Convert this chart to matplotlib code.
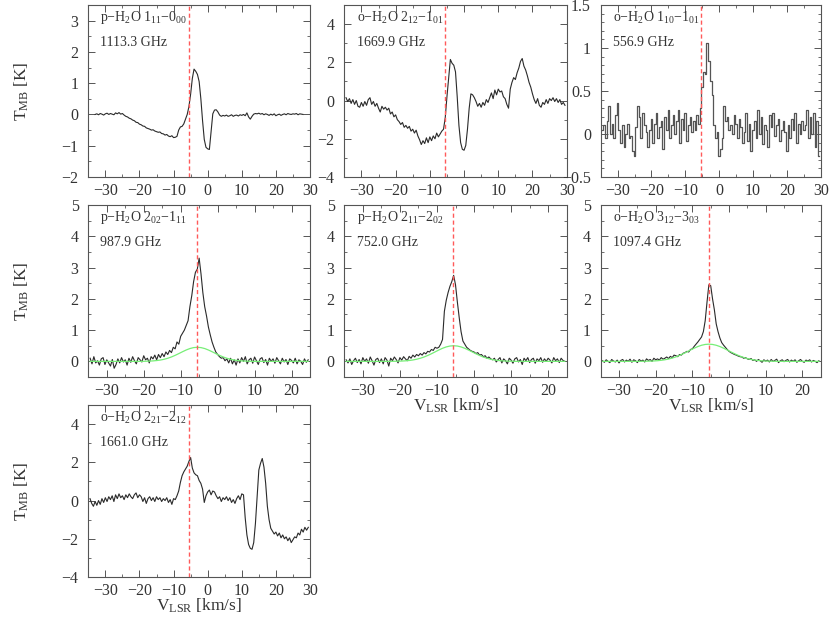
import matplotlib
matplotlib.use("Agg")
import numpy as np
import matplotlib.pyplot as plt
from matplotlib.ticker import MultipleLocator, FuncFormatter

plt.rcParams["font.family"] = ["Liberation Serif", "DejaVu Serif"]
plt.rcParams["mathtext.fontset"] = "custom"
plt.rcParams["mathtext.rm"] = "Liberation Serif"
plt.rcParams["mathtext.it"] = "Liberation Serif:italic"

# ---- spectra (T_MB in K), 0.5 km/s channels ----
# p-H2O 1_11-0_00, 1113.3 GHz ; first channel -33.0 km/s
t_1113 = [
    0.00, 0.02, -0.01, 0.03, 0.01, -0.02, 0.02, 0.04, 0.00, 0.03,
    0.01, -0.01, 0.05, 0.02, 0.06, 0.01, 0.03, -0.02, -0.06, -0.08,
    -0.12, -0.14, -0.18, -0.20, -0.25, -0.26, -0.31, -0.33, -0.37, -0.38,
    -0.43, -0.45, -0.47, -0.50, -0.49, -0.53, -0.55, -0.57, -0.56, -0.61,
    -0.62, -0.66, -0.64, -0.69, -0.71, -0.68, -0.74, -0.73, -0.70, -0.50,
    -0.40, -0.38, -0.30, -0.15, 0.00, 0.25, 0.65, 1.15, 1.45, 1.38,
    1.28, 1.05, 0.50, -0.20, -0.80, -1.05, -1.10, -1.12, -0.55, 0.02,
    0.14, 0.15, 0.08, -0.02, -0.06, -0.03, -0.05, -0.02, -0.06, -0.04,
    -0.01, -0.06, -0.03, -0.02, -0.05, -0.01, -0.03, 0.00, -0.04, 0.05,
    -0.08, -0.15, -0.06, 0.01, 0.03, 0.02, 0.04, 0.01, 0.03, -0.01,
    0.02, 0.00, -0.03, 0.01, -0.02, 0.02, -0.04, -0.01, 0.01, -0.03,
    0.00, 0.02, -0.01, 0.03, 0.01, 0.00, 0.02, 0.01, 0.03, -0.01,
    0.02, 0.01, 0.00,
]
# o-H2O 2_12-1_01, 1669.9 GHz ; first channel -34.5 km/s
t_1669 = [
    0.15, -0.05, 0.10, -0.15, 0.05, -0.20, 0.00, -0.30, -0.35, -0.10,
    -0.30, -0.05, -0.25, 0.05, 0.15, -0.20, -0.05, -0.30, -0.15, -0.40,
    -0.60, -0.30, -0.45, -0.35, -0.50, -0.40, -0.70, -0.60, -0.85, -0.75,
    -1.00, -1.10, -1.25, -1.15, -1.40, -1.30, -1.45, -1.35, -1.60, -1.50,
    -1.70, -1.55, -1.85, -2.05, -2.30, -2.10, -2.25, -1.95, -2.20, -1.90,
    -2.10, -1.85, -2.00, -1.70, -1.90, -1.75, -1.60, -1.50, -0.90, 0.20,
    1.20, 2.15, 1.95, 1.85, 1.50, 0.20, -1.30, -2.20, -2.55, -2.60,
    -2.35, -1.50, -0.40, 0.35, 0.30, 0.15, -0.05, -0.30, -0.15, -0.35,
    -0.10, -0.25, 0.05, -0.10, 0.15, 0.40, 0.10, 0.55, 0.30, 0.60,
    0.45, 0.50, 0.20, 0.10, -0.20, -0.40, 0.60, 0.95, 1.20, 1.10,
    1.45, 1.70, 2.05, 2.20, 1.80, 1.60, 1.30, 0.95, 0.70, 0.35,
    0.05, -0.15, 0.10, -0.25, -0.35, -0.10, -0.20, 0.05, -0.15, 0.10,
    0.00, 0.15, -0.05, 0.10, -0.10, 0.05, -0.20, -0.10, -0.25,
]
# o-H2O 1_10-1_01, 556.9 GHz ; first channel -34.5 km/s
t_556 = [
    0.05, 0.10, -0.05, 0.15, 0.32, 0.00, 0.12, -0.05, 0.22, 0.36,
    0.05, -0.10, 0.10, -0.15, 0.00, 0.12, -0.05, -0.02, -0.20, -0.25,
    0.08, 0.32, 0.20, -0.05, 0.25, 0.10, 0.02, -0.15, 0.05, 0.18,
    -0.10, 0.12, 0.25, -0.05, 0.08, 0.15, -0.18, 0.20, 0.05, 0.28,
    -0.05, 0.10, 0.22, 0.00, 0.15, 0.28, -0.10, 0.18, 0.05, 0.25,
    -0.08, 0.10, 0.20, 0.02, 0.15, 0.05, 0.22, 0.12, 0.30, 0.55,
    0.72, 0.70, 1.06, 0.85, 0.62, 0.45, 0.10, -0.05, 0.02, -0.25,
    -0.18, -0.05, 0.32, 0.15, 0.20, 0.05, 0.10, 0.00, 0.22, 0.12,
    -0.05, 0.18, 0.08, -0.10, 0.02, 0.25, -0.08, 0.12, -0.20, 0.05,
    0.15, -0.05, 0.28, 0.00, 0.20, -0.12, 0.10, 0.05, -0.15, 0.22,
    0.08, 0.25, -0.02, 0.10, 0.18, -0.08, 0.05, 0.15, 0.02, -0.20,
    0.10, -0.05, 0.18, 0.05, 0.25, -0.10, 0.12, 0.00, 0.15, 0.05,
    0.10, 0.28, -0.05, 0.20, 0.00, 0.25, -0.15, 0.15, -0.25,
]
# p-H2O 2_02-1_11, 987.9 GHz ; first channel -34.5 km/s
t_987 = [
    0.10, -0.08, 0.15, -0.05, 0.02, -0.12, 0.08, 0.12, -0.10, 0.05,
    -0.05, -0.15, 0.06, -0.22, -0.10, 0.08, -0.05, 0.12, -0.02, 0.05,
    -0.12, 0.10, -0.03, 0.15, 0.02, -0.08, 0.12, 0.05, -0.02, 0.18,
    0.05, 0.10, -0.05, 0.15, 0.08, 0.20, 0.05, 0.22, 0.12, 0.25,
    0.15, 0.30, 0.22, 0.35, 0.28, 0.45, 0.40, 0.62, 0.55, 0.80,
    0.90, 1.00, 1.15, 1.30, 1.75, 2.10, 2.55, 2.85, 2.95, 3.30,
    2.80, 2.20, 1.75, 1.45, 1.10, 0.85, 0.62, 0.45, 0.30, 0.22,
    0.15, 0.10, 0.12, 0.02, 0.08, -0.05, 0.10, -0.08, 0.05, -0.12,
    0.08, -0.05, 0.12, 0.00, 0.15, -0.08, 0.05, 0.10, -0.06, 0.14,
    0.02, -0.10, 0.08, 0.12, -0.04, 0.06, -0.12, 0.10, 0.00, 0.08,
    -0.06, 0.12, 0.02, -0.08, 0.10, -0.02, 0.06, -0.10, 0.08, 0.03,
    -0.05, 0.10, -0.08, 0.05, 0.00, -0.10, 0.08, -0.03, 0.05,
]
# p-H2O 2_11-2_02, 752.0 GHz ; first channel -34.5 km/s
t_752 = [
    0.05, -0.05, 0.08, -0.10, 0.02, 0.10, -0.04, 0.06, -0.08, 0.12,
    0.00, 0.08, -0.06, 0.14, 0.02, -0.12, 0.06, 0.10, -0.04, 0.08,
    -0.08, 0.12, 0.04, -0.15, 0.10, 0.02, 0.14, 0.06, -0.05, 0.12,
    0.04, 0.15, 0.08, 0.02, 0.16, 0.10, 0.20, 0.14, 0.22, 0.18,
    0.25, 0.20, 0.28, 0.24, 0.32, 0.30, 0.38, 0.35, 0.45, 0.42,
    0.45, 0.55, 0.70, 1.60, 1.95, 2.20, 2.40, 2.55, 2.75, 2.45,
    1.90, 1.40, 0.95, 0.65, 0.55, 0.45, 0.40, 0.35, 0.32, 0.30,
    0.25, 0.28, 0.20, 0.22, 0.15, 0.18, 0.10, 0.14, 0.08, 0.05,
    0.10, -0.02, 0.06, 0.12, -0.05, 0.08, 0.02, -0.08, 0.10, 0.04,
    -0.06, 0.08, 0.12, -0.02, 0.06, -0.10, 0.10, 0.02, 0.12, -0.04,
    0.06, 0.10, -0.06, 0.08, 0.02, 0.12, -0.03, 0.08, 0.00, 0.10,
    0.04, -0.05, 0.12, 0.02, 0.08, -0.04, 0.10, 0.03, 0.00,
]
# o-H2O 3_12-3_03, 1097.4 GHz ; first channel -34.5 km/s
t_1097 = [
    0.02, -0.03, 0.05, 0.00, -0.04, 0.06, 0.01, -0.02, 0.04, -0.05,
    0.03, 0.06, -0.02, 0.04, 0.00, 0.07, -0.03, 0.05, 0.02, -0.04,
    0.06, 0.01, 0.04, -0.02, 0.08, 0.03, 0.06, 0.00, 0.10, 0.05,
    0.08, 0.04, 0.12, 0.07, 0.10, 0.14, 0.09, 0.16, 0.12, 0.20,
    0.18, 0.15, 0.22, 0.20, 0.26, 0.28, 0.32, 0.30, 0.38, 0.40,
    0.48, 0.55, 0.62, 0.70, 0.78, 0.95, 1.30, 1.90, 2.45, 2.42,
    2.00, 1.65, 1.20, 0.95, 0.75, 0.60, 0.52, 0.45, 0.38, 0.32,
    0.28, 0.25, 0.22, 0.20, 0.17, 0.15, 0.14, 0.10, 0.12, 0.08,
    0.06, 0.09, 0.03, 0.05, 0.00, 0.06, 0.02, -0.03, 0.05, 0.01,
    0.04, -0.02, 0.06, 0.00, 0.03, 0.07, -0.04, 0.02, 0.05, -0.01,
    0.03, 0.06, -0.02, 0.04, 0.00, 0.05, -0.03, 0.02, 0.06, 0.00,
    -0.03, 0.04, 0.01, 0.05, -0.02, 0.03, 0.00, -0.04, 0.02,
]
# o-H2O 2_21-2_12, 1661.0 GHz ; first channel -34.5 km/s
t_1661 = [
    0.10, -0.15, -0.30, -0.05, -0.25, 0.00, -0.20, 0.10, -0.10, 0.15,
    -0.05, 0.20, 0.05, 0.25, -0.05, 0.30, 0.10, 0.35, 0.15, 0.25,
    0.05, 0.30, 0.15, 0.35, 0.20, 0.10, 0.30, 0.40, 0.15, 0.30,
    0.20, -0.05, 0.15, -0.15, 0.10, 0.20, 0.00, 0.15, -0.05, 0.20,
    0.05, 0.15, -0.05, 0.10, 0.00, 0.15, -0.10, 0.05, -0.20, 0.10,
    0.05, 0.25, 0.50, 0.95, 1.30, 1.50, 1.65, 1.80, 2.05, 2.25,
    1.70, 1.45, 1.35, 1.30, 1.05, 0.90, 0.60, -0.10, 0.25, 0.45,
    0.55, 0.30, 0.50, 0.45, 0.25, 0.10, 0.20, -0.05, 0.15, 0.05,
    0.20, 0.00, 0.15, -0.10, 0.05, -0.15, 0.10, 0.25, 0.05, 0.35,
    0.30, -0.90, -1.80, -2.30, -2.50, -2.55, -2.20, -1.20, 0.20, 1.60,
    1.95, 2.20, 1.75, 0.90, -0.30, -1.00, -1.45, -1.60, -1.75, -1.65,
    -1.85, -1.70, -1.95, -1.80, -2.00, -1.90, -2.10, -1.95, -2.20, -2.05,
    -1.90, -1.95, -1.70, -1.80, -1.50, -1.65, -1.40, -1.55, -1.40,
]

# broad component fits (green), 1 km/s grid starting at -34.5 km/s
fit_987 = [0.0] * 15 + [
    0.004, 0.008, 0.015, 0.026, 0.042, 0.066, 0.099, 0.141, 0.192, 0.249,
    0.308, 0.364, 0.41, 0.44, 0.45, 0.44, 0.41, 0.364, 0.308, 0.249,
    0.192, 0.141, 0.099, 0.066, 0.042, 0.026, 0.015, 0.008, 0.004,
] + [0.0] * 16
fit_752 = [0.0] * 13 + [
    0.003, 0.006, 0.010, 0.017, 0.028, 0.044, 0.068, 0.099, 0.139, 0.188,
    0.243, 0.303, 0.363, 0.418, 0.462, 0.49, 0.50, 0.49, 0.462, 0.418,
    0.363, 0.303, 0.243, 0.188, 0.139, 0.099, 0.068, 0.044, 0.028, 0.017,
    0.010, 0.006, 0.003,
] + [0.0] * 14
fit_1097 = [0.0] * 11 + [
    0.003, 0.005, 0.008, 0.013, 0.021, 0.034, 0.051, 0.074, 0.105, 0.144,
    0.191, 0.245, 0.303, 0.364, 0.422, 0.474, 0.515, 0.541, 0.55, 0.541,
    0.515, 0.474, 0.422, 0.364, 0.303, 0.245, 0.191, 0.144, 0.105, 0.074,
    0.051, 0.034, 0.021, 0.013, 0.008, 0.005, 0.003,
] + [0.0] * 12

species = [r"p−H$_2$O 1$_{11}$−0$_{00}$", r"o−H$_2$O 2$_{12}$−1$_{01}$",
           r"o−H$_2$O 1$_{10}$−1$_{01}$", r"p−H$_2$O 2$_{02}$−1$_{11}$",
           r"p−H$_2$O 2$_{11}$−2$_{02}$", r"o−H$_2$O 3$_{12}$−3$_{03}$",
           r"o−H$_2$O 2$_{21}$−2$_{12}$"]
freqs = ["1113.3 GHz", "1669.9 GHz", "556.9 GHz", "987.9 GHz",
         "752.0 GHz", "1097.4 GHz", "1661.0 GHz"]
spectra = [t_1113, t_1669, t_556, t_987, t_752, t_1097, t_1661]
v_first = [-33.0, -34.5, -34.5, -34.5, -34.5, -34.5, -34.5]
fits = [None, None, None, fit_987, fit_752, fit_1097, None]
v_src = [-5.5, -5.6, -5.3, -5.6, -5.6, -5.5, -5.5]

xlims = [(-35, 30), (-35, 30), (-35, 30), (-35, 25), (-35, 25), (-35, 25), (-35, 30)]
ylims = [(-2, 3.5), (-4, 5), (-0.5, 1.5), (-0.5, 5), (-0.5, 5), (-0.5, 5), (-4, 5)]
ymajor = [1, 2, 0.5, 1, 1, 1, 2]
yminor = [0.5, 1, 0.1, 0.5, 0.5, 0.5, 1]

W, H = 830, 619
lefts = [88.3, 344.3, 600.7]
widths = [221.7, 222.4, 220.0]
tops = [5, 205, 405]
ph = 172
slots = [(0, 0), (0, 1), (0, 2), (1, 0), (1, 1), (1, 2), (2, 0)]

LINE = "#2a2a2a"
FRAME = "#555555"
TXT = "#333333"

minus_fmt = FuncFormatter(lambda x, pos: f"{x:g}".replace("-", "\u2212"))

fig = plt.figure(figsize=(W / 100, H / 100), dpi=100)

for i, (r, c) in enumerate(slots):
    ax = fig.add_axes([lefts[c] / W, 1 - (tops[r] + ph) / H, widths[c] / W, ph / H])
    T = np.array(spectra[i])
    v = v_first[i] + 0.5 * np.arange(len(T))
    if i == 2:
        ax.plot(v, T, drawstyle="steps-mid", color="#555555", lw=0.9)
    else:
        ax.plot(v, T, color=LINE, lw=0.8)
    if fits[i] is not None:
        vf = -34.5 + np.arange(len(fits[i]))
        ax.plot(vf, fits[i], color="#77ee77", lw=0.9)
    ax.axvline(v_src[i], color="#ff5a5a", lw=1.0, ls=(0, (3, 2)), zorder=3)
    ax.set_xlim(*xlims[i])
    ax.set_ylim(*ylims[i])
    ax.xaxis.set_major_locator(MultipleLocator(10))
    ax.xaxis.set_minor_locator(MultipleLocator(5))
    ax.yaxis.set_major_locator(MultipleLocator(ymajor[i]))
    ax.yaxis.set_minor_locator(MultipleLocator(yminor[i]))
    ax.yaxis.set_major_formatter(minus_fmt)
    ax.tick_params(which="both", direction="in", top=True, right=True,
                   colors=FRAME, labelcolor=TXT, labelsize=11.5)
    ax.tick_params(which="major", length=5, width=0.7)
    ax.tick_params(which="minor", length=2.5, width=0.6)
    ax.tick_params(axis="y", pad=7)
    ax.tick_params(axis="x", pad=4)
    for s in ax.spines.values():
        s.set_color(FRAME)
        s.set_linewidth(0.8)
    ax.text(0.055, 0.925, species[i], transform=ax.transAxes, fontsize=10,
            color=TXT, va="center", ha="left")
    ax.text(0.055, 0.78, freqs[i], transform=ax.transAxes, fontsize=10,
            color=TXT, va="center", ha="left")

# axis titles
for r in range(3):
    yc = 1 - (tops[r] + ph / 2) / H
    fig.text(22 / W, yc, r"T$_{\mathrm{MB}}$ [K]", rotation=90, ha="center",
             va="center", fontsize=12.5, color=TXT)
for c, r in [(0, 2), (1, 1), (2, 1)]:
    xc = (lefts[c] + widths[c] / 2) / W
    yb = 1 - (tops[r] + ph + 34) / H
    fig.text(xc, yb, r"V$_{\mathrm{LSR}}$ [km/s]", ha="center", va="baseline",
             fontsize=12.5, color=TXT)

plt.savefig("out.png", dpi=100)
